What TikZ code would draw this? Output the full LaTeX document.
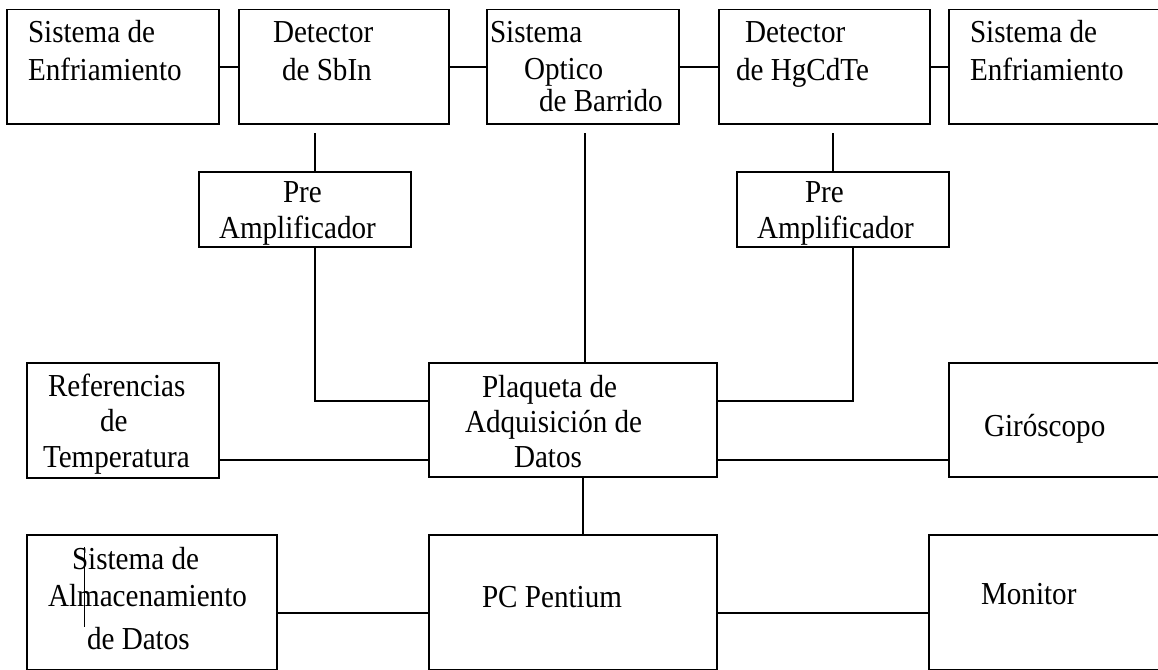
\documentclass[tikz,border=0pt]{standalone}
\usepackage{fontspec}
\setmainfont{Liberation Serif}
\newcommand{\sx}[1]{\scalebox{0.91}[1]{#1}}
\begin{document}
\begin{tikzpicture}[x=1pt,y=-1pt,
  blk/.style={draw,line width=1.9pt,rectangle,inner sep=0pt,outer sep=0pt},
  lbl/.style={anchor=base west,inner sep=0pt,outer sep=0pt,font=\fontsize{32}{38}\selectfont},
  wire/.style={line width=1.9pt}]
\useasboundingbox (0,0) rectangle (1158,669);
\clip (0,0) rectangle (1158,669);
% boxes
\newcommand{\blkbox}[5]{\node[blk,anchor=north west,minimum width=#4-#2,minimum height=#5-#3] (#1) at (#2,#3) {};}
\blkbox{b1}{7}{9.5}{219}{124}
\blkbox{b2}{239}{9.5}{449}{124}
\blkbox{b3}{487}{9.5}{679}{124}
\blkbox{b4}{719}{9.5}{930}{124}
\blkbox{b5}{949}{9.5}{1175}{124}
\blkbox{pre1}{199}{172}{411}{247}
\blkbox{pre2}{737}{172}{949}{247}
\blkbox{ref}{27}{363}{219}{478}
\blkbox{plq}{429}{363}{717}{477}
\blkbox{gyro}{949}{363}{1175}{477}
\blkbox{alm}{27}{535}{277}{669.5}
\blkbox{pc}{429}{535}{717}{669.5}
\blkbox{mon}{929}{535}{1175}{669.5}
% texts
\node[lbl] (t1a) at (28,42) {\sx{Sistema de}};
\node[lbl] (t1b) at (28,80) {\sx{Enfriamiento}};
\node[lbl] (t2a) at (273,42) {\sx{Detector}};
\node[lbl] (t2b) at (282,80) {\sx{de SbIn}};
\node[lbl] (t3a) at (490,42) {\sx{Sistema}};
\node[lbl] (t3b) at (524,79) {\sx{Optico}};
\node[lbl] (t3c) at (539,111) {\sx{de Barrido}};
\node[lbl] (t4a) at (745,42) {\sx{Detector}};
\node[lbl] (t4b) at (736,80) {\sx{de HgCdTe}};
\node[lbl] (t5a) at (970,42) {\sx{Sistema de}};
\node[lbl] (t5b) at (970,80) {\sx{Enfriamiento}};
\node[lbl] (p1a) at (283,202) {\sx{Pre}};
\node[lbl] (p1b) at (219,238) {\sx{Amplificador}};
\node[lbl] (p2a) at (805,202) {\sx{Pre}};
\node[lbl] (p2b) at (757,238) {\sx{Amplificador}};
\node[lbl] (r1) at (48,396) {\sx{Referencias}};
\node[lbl] (r2) at (100,431) {\sx{de}};
\node[lbl] (r3) at (43,467) {\sx{Temperatura}};
\node[lbl] (q1) at (482,397) {\sx{Plaqueta de}};
\node[lbl] (q2) at (465,432) {\sx{Adquisición de}};
\node[lbl] (q3) at (514,467) {\sx{Datos}};
\node[lbl] (g1) at (984,436) {\sx{Giróscopo}};
\node[lbl] (a1) at (72,569) {\sx{Sistema de}};
\node[lbl] (a2) at (48,606) {\sx{Almacenamiento}};
\node[lbl] (a3) at (87,649) {\sx{de Datos}};
\node[lbl] (pc1) at (482,607) {\sx{PC Pentium}};
\node[lbl] (m1) at (981,604) {\sx{Monitor}};
% helper coordinates
\coordinate (c1) at (315,133);
\coordinate (j1) at (315,401);
\coordinate (c3) at (585,133);
\coordinate (c4) at (833,133);
\coordinate (j2) at (853,401);
\coordinate (h460) at (0,460);
\coordinate (v583) at (583,0);
\coordinate (h613) at (0,613);
\coordinate (s1) at (84.3,547);
\coordinate (s2) at (84.3,627);
% connectors
\draw[wire] (b1.east) -- (b2.west);
\draw[wire] (b2.east) -- (b3.west);
\draw[wire] (b3.east) -- (b4.west);
\draw[wire] (b4.east) -- (b5.west);
\draw[wire] (c1) -- (c1 |- pre1.north);
\draw[wire] (c4) -- (c4 |- pre2.north);
\draw[wire] (pre1.south -| j1) -- (j1) -- (j1 -| plq.west);
\draw[wire] (pre2.south -| j2) -- (j2) -- (j2 -| plq.east);
\draw[wire] (c3) -- (c3 |- plq.north);
\draw[wire] (ref.east |- h460) -- (plq.west |- h460);
\draw[wire] (plq.east |- h460) -- (gyro.west |- h460);
\draw[wire] (plq.south -| v583) -- (pc.north -| v583);
\draw[wire] (alm.east |- h613) -- (pc.west |- h613);
\draw[wire] (pc.east |- h613) -- (mon.west |- h613);
\draw[line width=1.6pt] (s1) -- (s2);
\end{tikzpicture}
\end{document}
